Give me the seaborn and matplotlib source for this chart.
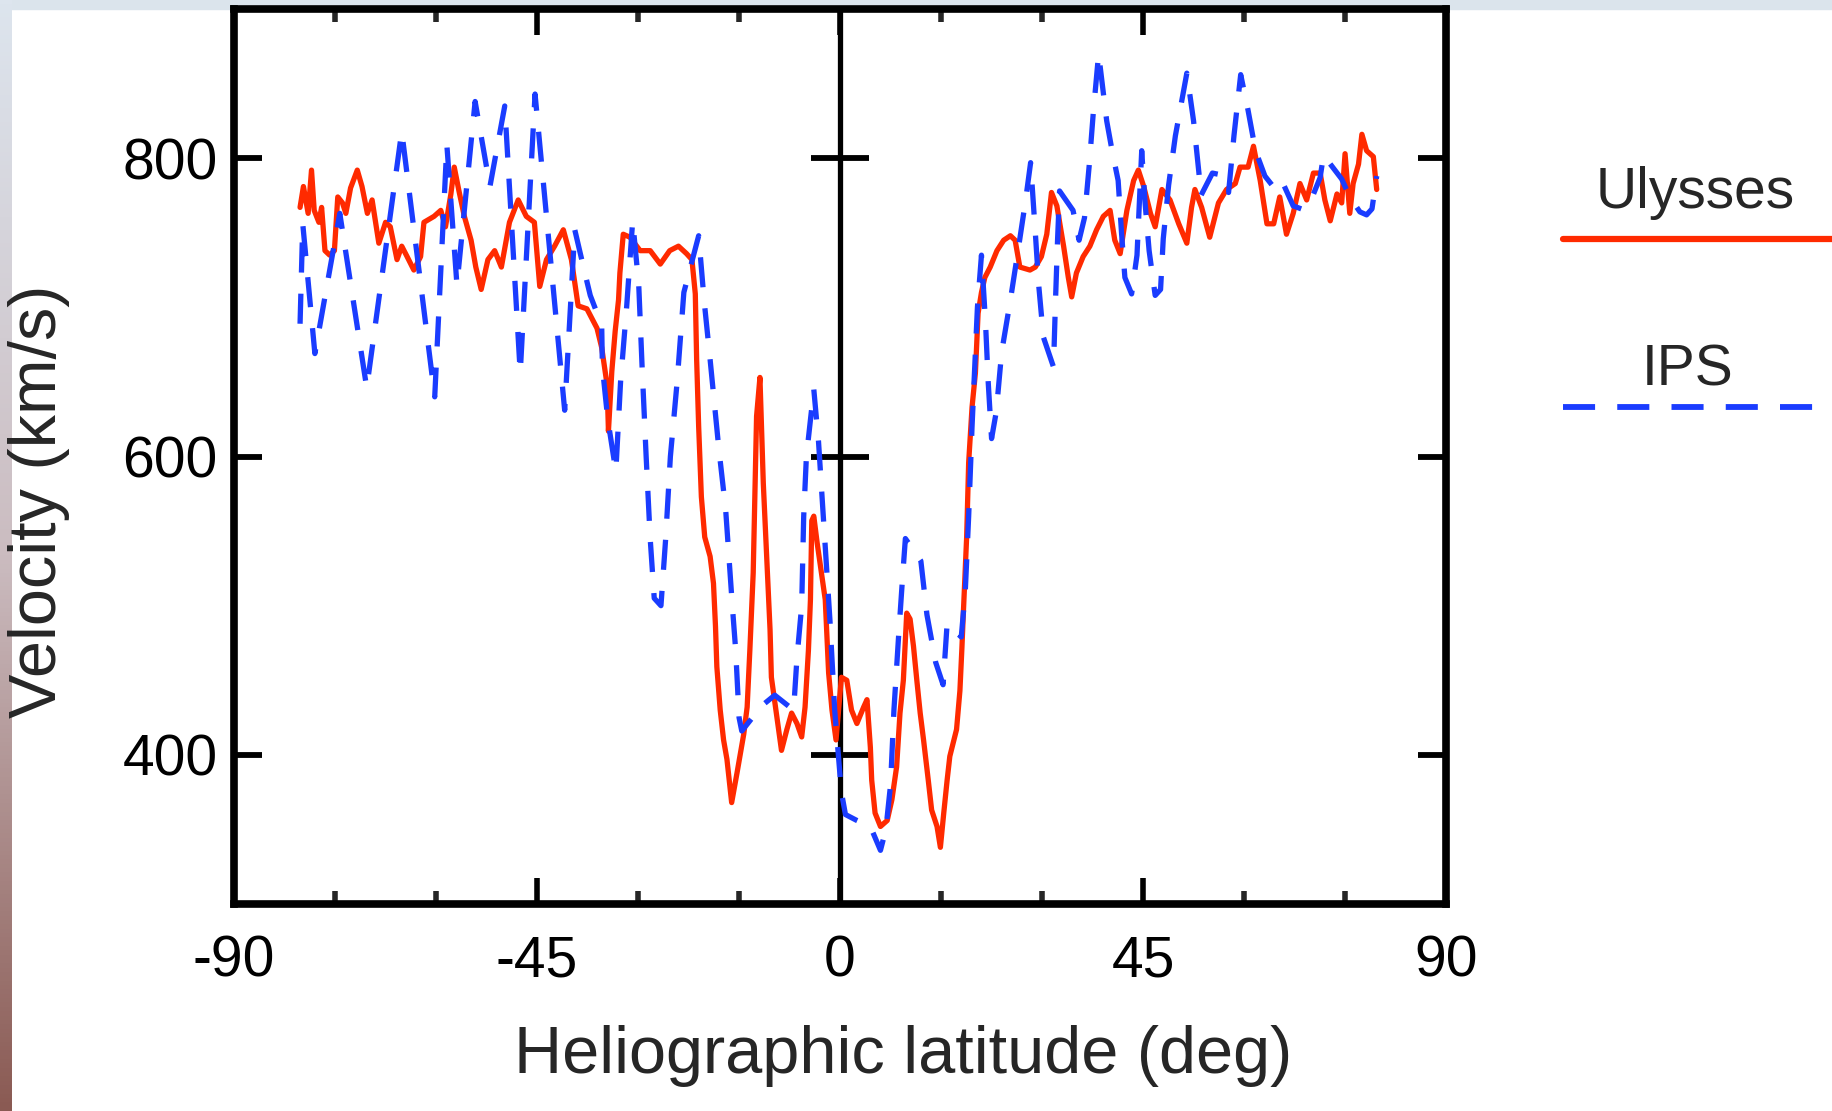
import numpy as np
import pandas as pd
import seaborn as sns
import matplotlib.pyplot as plt
from matplotlib.lines import Line2D
from matplotlib.patches import Rectangle
from matplotlib.colors import LinearSegmentedColormap

# Ulysses in-situ solar wind speed vs heliographic latitude
ulysses_lat = [-80.2, -79.7, -79.0, -78.5, -78.1, -77.4, -77.0, -76.5, -75.8, -75.1,
               -74.6, -73.9, -73.4, -72.7, -71.7, -71.0, -70.2, -69.5, -68.5, -67.5,
               -66.8, -65.8, -65.1, -64.3, -63.3, -62.3, -61.8, -60.3, -59.3, -58.6,
               -57.8, -57.3, -56.6, -55.8, -54.8, -54.1, -53.3, -52.3, -51.3, -50.3,
               -49.1, -47.8, -46.6, -45.4, -44.6, -43.6, -42.4, -41.1, -39.9, -38.9,
               -37.6, -36.1, -35.4, -34.6, -34.4, -33.9, -33.4, -32.9, -32.7, -32.2,
               -31.2, -29.7, -28.2, -26.7, -25.3, -24.0, -22.8, -22.0, -21.5, -21.3,
               -21.0, -20.6, -20.1, -19.3, -18.8, -18.5, -18.3, -17.8, -17.3, -16.8,
               -16.1, -15.3, -14.3, -13.8, -13.4, -12.9, -12.4, -11.9, -11.4, -10.9,
               -10.4, -10.2, -9.4, -8.7, -7.9, -7.2, -6.4, -5.7, -5.2, -4.7,
               -4.4, -4.2, -3.9, -3.4, -2.9, -2.2, -1.7, -1.2, -0.6, 0.2,
               1.0, 1.7, 2.5, 3.5, 4.0, 4.5, 4.7, 5.2, 6.0, 7.0,
               7.7, 8.4, 8.9, 9.4, 9.9, 10.4, 10.9, 11.4, 11.9, 12.4,
               13.1, 13.6, 14.4, 14.9, 15.4, 15.9, 16.3, 16.8, 17.3, 17.8,
               18.1, 18.3, 18.8, 19.1, 19.6, 20.1, 20.5, 21.0, 21.5, 22.3,
               23.3, 24.3, 25.3, 26.0, 26.7, 28.2, 29.0, 29.9, 30.7, 31.4,
               32.2, 33.2, 33.9, 34.4, 35.1, 36.1, 37.1, 38.1, 39.1, 40.1,
               40.8, 41.6, 42.6, 43.6, 44.3, 45.1, 46.1, 46.8, 47.8, 49.0,
               50.3, 51.5, 52.2, 52.7, 53.7, 54.9, 56.2, 57.4, 58.7, 59.4,
               60.6, 61.4, 62.4, 63.4, 64.4, 65.3, 66.3, 67.3, 68.3, 69.3,
               70.3, 71.3, 72.0, 72.8, 73.8, 74.5, 75.0, 75.7, 76.2, 77.0,
               77.5, 78.2, 79.2, 79.7]
ulysses_vel = [767, 781, 763, 792, 765, 757, 767, 738, 735, 738,
               774, 770, 763, 780, 792, 781, 763, 772, 743, 757,
               754, 732, 741, 734, 725, 734, 757, 761, 765, 754,
               776, 794, 778, 761, 745, 727, 712, 732, 738, 727,
               757, 772, 761, 757, 714, 732, 741, 752, 732, 701,
               699, 686, 673, 648, 617, 657, 684, 705, 723, 749,
               747, 738, 738, 729, 738, 741, 736, 732, 709, 665,
               620, 573, 546, 533, 515, 486, 459, 430, 410, 397,
               368, 388, 414, 432, 470, 522, 627, 653, 582, 533,
               484, 452, 426, 403, 417, 428, 421, 412, 432, 470,
               504, 557, 560, 542, 526, 504, 455, 430, 410, 452,
               450, 430, 421, 432, 437, 405, 383, 361, 352, 356,
               370, 392, 428, 450, 495, 491, 473, 450, 428, 410,
               383, 363, 352, 338, 361, 383, 399, 408, 417, 443,
               472, 494, 546, 596, 633, 656, 696, 710, 720, 727,
               738, 745, 748, 745, 727, 725, 727, 734, 749, 777,
               768, 741, 720, 707, 723, 734, 741, 752, 761, 765,
               745, 736, 765, 785, 792, 781, 763, 754, 779, 772,
               756, 743, 767, 779, 767, 747, 770, 779, 783, 794,
               794, 808, 785, 756, 756, 774, 749, 763, 783, 772,
               790, 790, 772, 758, 776, 770, 803, 763, 783, 796,
               816, 805, 801, 779]

# IPS (interplanetary scintillation) speed
ips_lat = [-80.2, -79.8, -78.0, -74.3, -70.3, -65.1, -60.2, -58.4, -56.9, -54.2,
           -52.0, -49.8, -47.5, -45.3, -40.9, -39.4, -37.9, -37.1, -35.4, -35.3,
           -34.5, -33.3, -32.6, -31.7, -30.8, -29.9, -29.4, -28.8, -28.2, -27.6,
           -26.6, -25.9, -25.2, -24.2, -23.2, -21.0, -20.2, -19.3, -18.0, -17.0,
           -16.0, -15.5, -15.0, -14.6, -11.6, -9.7, -6.9, -6.4, -5.7, -5.4,
           -5.0, -3.9, -3.2, -2.7, -2.2, -1.5, -0.8, 0.2, 0.8, 2.5,
           4.5, 6.0, 6.8, 7.5, 8.0, 8.7, 9.3, 9.7, 12.0, 12.9,
           14.2, 15.3, 15.9, 18.0, 18.6, 19.1, 19.6, 20.0, 20.4, 21.0,
           21.6, 22.0, 22.5, 23.2, 24.0, 25.3, 26.5, 27.5, 28.3, 29.0,
           29.5, 30.2, 31.7, 32.0, 32.3, 32.6, 34.6, 35.5, 36.3, 37.0,
           37.6, 38.4, 39.6, 40.4, 41.3, 41.8, 42.3, 43.3, 44.1, 44.8,
           45.3, 45.9, 46.8, 47.6, 48.0, 48.8, 49.8, 51.5, 52.5, 53.3,
           53.6, 55.3, 56.4, 57.7, 58.5, 59.5, 60.6, 61.7, 63.1, 64.5,
           65.6, 67.3, 68.5, 69.6, 71.3, 71.8, 73.5, 74.5, 75.7, 77.2,
           78.2, 79.0, 79.7]
ips_vel = [689, 756, 669, 763, 646, 818, 640, 809, 715, 838,
           781, 835, 656, 843, 631, 752, 723, 708, 688, 660,
           625, 590, 650, 700, 758, 715, 660, 600, 545, 505,
           500, 545, 600, 650, 710, 748, 705, 665, 605, 565,
           500, 470, 425, 416, 433, 440, 430, 465, 500, 560,
           600, 645, 610, 575, 540, 490, 430, 375, 360, 356,
           352, 336, 350, 380, 430, 480, 520, 545, 530, 494,
           462, 447, 488, 479, 510, 560, 620, 660, 700, 735,
           690, 650, 612, 630, 670, 705, 740, 770, 797, 750,
           715, 680, 660, 705, 745, 778, 765, 745, 760, 795,
           830, 870, 825, 805, 785, 750, 720, 709, 735, 805,
           770, 738, 708, 712, 746, 782, 815, 857, 825, 790,
           775, 790, 789, 777, 815, 856, 832, 805, 788, 780,
           785, 768, 766, 768, 787, 802, 792, 786, 774, 764,
           762, 766, 788]

xticks_major = [-90, -45, 0, 45, 90]
xticks_minor = [-75, -60, -30, -15, 15, 30, 60, 75]
yticks = [400, 600, 800]

red = "#ff2a00"
blue = "#1a3cff"

sns.set_style("white")
plt.rcParams['font.family'] = ['Liberation Sans', 'DejaVu Sans']
plt.rcParams['axes.unicode_minus'] = False

fig = plt.figure(figsize=(18.33, 11.11), dpi=100)

# slide background bits (light band on top, gradient on left edge)
fig.add_artist(Rectangle((0, 1 - 9 / 1111), 1, 9 / 1111, transform=fig.transFigure,
                         color="#dbe4ec", zorder=0))
edge = fig.add_axes([0, 0, 12 / 1833, 1])
edge_cmap = LinearSegmentedColormap.from_list("edge", ["#dde5ee", "#cbbcc0", "#8a5a53"])
edge.imshow(np.linspace(0, 1, 256).reshape(-1, 1), aspect="auto", cmap=edge_cmap)
edge.axis("off")

ax = fig.add_axes([0.1277, 0.1863, 0.6612, 0.8056])

# centre axis with its own cross ticks
ax.axvline(0, color="black", lw=3.8, zorder=1)
ax.hlines(yticks, -4.3, 4.3, color="black", lw=4.2, zorder=1)

uly = pd.DataFrame({"lat": ulysses_lat, "vel": ulysses_vel})
ips = pd.DataFrame({"lat": ips_lat, "vel": ips_vel})
sns.lineplot(data=uly, x="lat", y="vel", color=red, linewidth=3.8,
             sort=False, estimator=None, ax=ax, zorder=2)
sns.lineplot(data=ips, x="lat", y="vel", color=blue, linewidth=3.8,
             linestyle=(0, (5.7, 4.0)), sort=False, estimator=None, ax=ax, zorder=3)

ax.set_xlim(-90, 90)
ax.set_ylim(300, 900)
ax.set_xticks(xticks_major)
ax.set_xticks(xticks_minor, minor=True)
ax.set_yticks(yticks)

for sp in ax.spines.values():
    sp.set_linewidth(5.5)
    sp.set_color("black")
    sp.set_zorder(5)

ax.tick_params(axis="x", which="major", direction="in", length=19, width=4,
               top=True, bottom=True, labelsize=41, pad=22, colors="black")
ax.tick_params(axis="x", which="minor", direction="in", length=9.5, width=4,
               top=True, bottom=True)
ax.tick_params(axis="y", which="major", direction="in", length=20, width=4.2,
               left=True, right=True, labelsize=41, pad=12, colors="black")

ax.set_xlabel("Heliographic latitude (deg)", fontsize=48)
ax.xaxis.set_label_coords(0.552, -0.135)
ax.set_ylabel("Velocity (km/s)", fontsize=48)
ax.yaxis.set_label_coords(-0.135, 0.45)

# legend: label above a line sample, running off the right edge
fig.text(1695 / 1833, 1 - 208 / 1111, "Ulysses", ha="center", va="baseline", fontsize=41)
fig.add_artist(Line2D([1563 / 1833, 1.0], [1 - 238.5 / 1111] * 2, color=red, lw=4.5,
                      transform=fig.transFigure))
fig.text(1688 / 1833, 1 - 386 / 1111, "IPS", ha="center", va="baseline", fontsize=41)
fig.add_artist(Line2D([1563 / 1833, 1.0], [1 - 407 / 1111] * 2, color=blue, lw=4.2,
                      linestyle=(0, (5.5, 3.8)), transform=fig.transFigure))

fig.savefig("out.png", dpi=100)
